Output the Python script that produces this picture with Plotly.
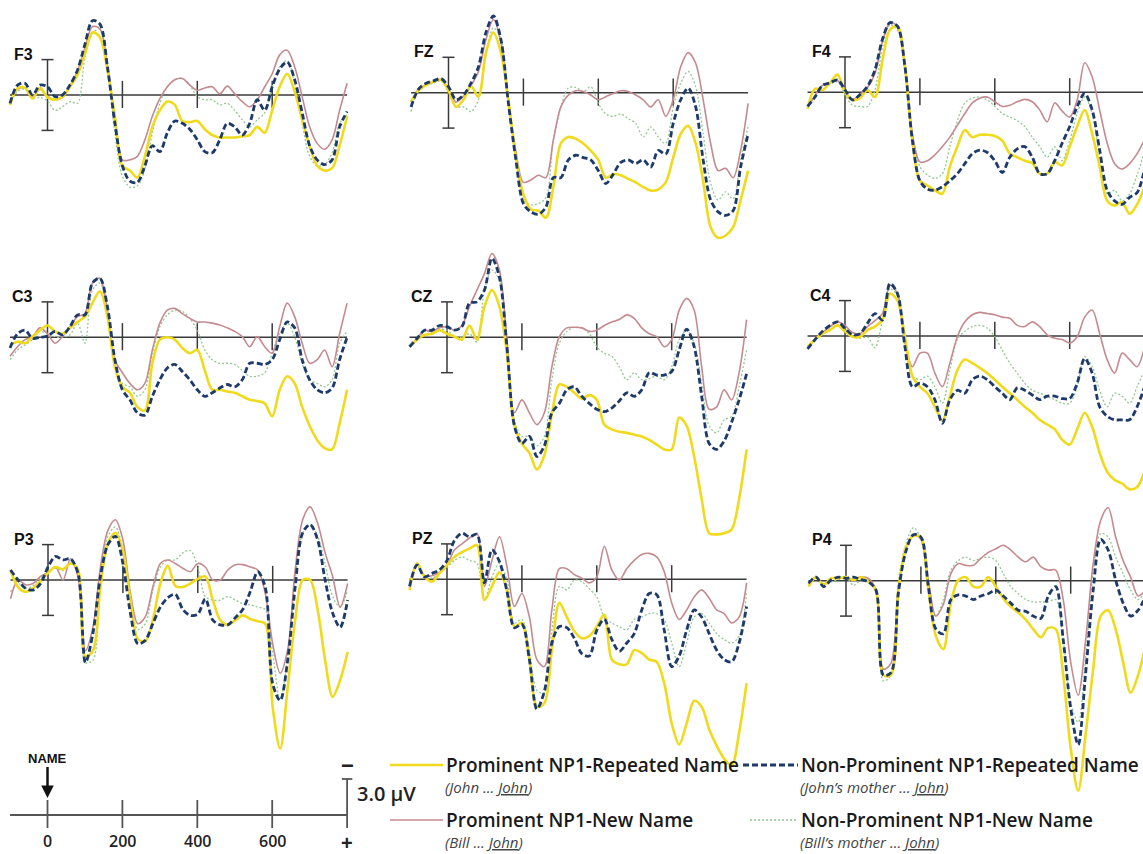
import plotly.graph_objects as go

W, H = 1143, 854
TIME_MS = list(range(-100, 801, 20))  # 46 samples

# ---- ERP amplitudes (µV, negative plotted up) ----
# PR = Prominent NP1-Repeated, NR = Non-Prominent NP1-Repeated,
# PN = Prominent NP1-New, NN = Non-Prominent NP1-New
F3_PR = [0.84,-0.56,-0.6,0.3,-0.6,0.2,0.4,0.15,-0.7,-1.7, -3.5,-5.3,-4.9,-2.1,1.8,6.0,6.4,7.0,5.2,2.7, 1.3,0.56,0.84,2.2,2.3,2.2,2.9,3.4,3.6,3.6, 3.6,3.5,3.4,2.7,3.2,1.3,-0.7,-1.8,-0.3,2.1, 4.3,6.0,6.4,6.2,4.3,1.8]
F3_NR = [0.7,-0.84,-1.0,0.0,-0.84,-0.7,0.14,0.0,-0.84,-2.1, -4.3,-6.3,-6.0,-2.4,2.4,6.0,7.3,7.4,6.0,4.3, 4.8,3.2,2.2,2.4,2.9,3.8,4.8,4.9,3.8,2.4, 2.7,3.4,2.4,0.4,1.3,-0.7,-2.2,-2.8,-1.3,1.5, 4.3,5.5,5.9,5.5,2.7,1.4]
F3_PN = [0.7,-0.5,-0.6,0.2,-0.5,0.1,0.4,0.2,-0.8,-2.0, -4.0,-5.8,-5.6,-2.5,2.0,5.5,5.5,5.2,3.8,1.8, 0.3,-0.7,-1.3,-1.4,-0.84,-0.4,-0.6,-0.7,-0.1,-0.75, -0.1,0.56,1.0,0.4,-0.7,-1.8,-3.4,-3.8,-2.4,0.14, 2.7,4.1,4.6,3.8,1.3,-1.0]
F3_NN = [0.8,-0.3,-0.5,0.3,0.2,0.5,1.3,1.0,0.56,0.7, -3.2,-5.2,-5.6,-2.4,3.2,6.9,7.8,7.7,6.3,3.2, 0.7,-0.7,-1.3,-1.4,-0.84,0.14,0.4,0.4,0.84,0.7, 1.3,2.1,2.7,2.1,1.5,-0.7,-2.4,-2.9,-1.0,2.4, 5.2,6.0,5.9,4.9,2.4,1.7]

FZ_PR = [0.77,-0.2,-0.65,-0.94,-1.1,-0.2,1.2,0.6,-0.57,0.34, -3.4,-5.1,-3.4,0.6,5.5,8.6,9.9,10.0,10.6,8.0, 4.3,3.75,3.9,4.3,4.9,5.7,7.2,6.9,7.0,7.3, 7.6,8.0,8.3,8.2,7.6,5.5,3.5,2.8,4.3,7.5, 11.4,12.3,12.1,11.4,9.1,6.6]
FZ_NR = [1.2,-0.3,-0.8,-1.0,-1.2,-0.5,0.6,0.2,-0.8,-2.2, -5.1,-6.5,-4.5,0.9,5.7,9.4,10.1,10.3,9.7,7.2, 7.2,5.7,5.3,5.5,5.7,6.6,7.7,6.9,5.9,5.7, 6.0,5.7,6.3,4.9,5.2,2.6,0.6,-0.4,1.2,5.7, 9.1,10.1,10.4,10.0,6.3,3.5]
FZ_PN = [0.8,-0.3,-0.7,-0.9,-1.1,-0.3,0.8,0.3,-0.6,-1.8, -4.5,-6.2,-4.3,0.8,5.0,7.6,7.4,7.0,7.2,4.0, 1.2,0.2,-0.17,-0.1,0.2,0.6,0.34,0.06,-0.17,-0.1, 0.2,0.6,1.2,0.6,2.0,0.6,-2.2,-3.4,-2.5,0.6, 4.3,6.6,6.4,7.2,4.9,0.9]
FZ_NN = [1.6,-0.2,-0.6,-0.8,-1.0,0.0,1.2,1.2,1.6,0.6, -3.2,-5.5,-4.5,0.6,5.0,9.1,9.5,9.4,8.9,4.0, 1.2,-0.4,-0.45,-0.1,-0.5,0.9,1.8,2.0,1.8,2.2, 2.6,3.75,2.9,3.75,4.3,1.2,-0.8,-1.8,-0.5,3.5, 7.7,9.1,8.4,9.0,5.7,2.9]

F4_PR = [1.4,-0.3,-0.2,-0.8,-1.5,0.0,0.65,0.5,-0.2,0.4, -2.7,-5.3,-5.6,-2.2,4.1,7.5,7.9,8.3,8.6,6.3, 4.6,3.2,3.8,3.6,3.6,3.7,4.1,5.2,5.5,5.8, 6.0,6.9,6.9,5.9,6.2,4.6,2.9,1.5,3.5,6.3, 9.2,9.6,9.3,10.3,9.5,8.0]
F4_NR = [1.2,0.4,-0.6,-0.8,-1.05,-0.2,0.65,0.2,-0.5,-1.9, -4.5,-5.9,-5.6,-2.2,4.1,7.5,8.2,8.3,8.0,7.5, 6.9,6.05,5.2,4.9,5.1,5.8,6.8,5.5,4.8,4.6, 5.5,6.9,6.9,5.8,4.3,2.9,1.2,0.1,1.5,4.9, 8.3,9.2,9.5,8.9,8.5,6.5]
F4_PN = [1.3,0.3,-0.6,-0.8,-1.0,-0.1,0.6,0.2,-0.4,-1.6, -4.3,-5.9,-5.6,-2.0,3.5,5.9,5.8,5.3,4.6,3.8, 2.8,1.8,0.9,0.5,0.4,0.8,1.2,1.1,0.8,0.6, 0.8,1.5,2.5,0.9,1.6,2.1,0.65,-2.5,-1.3,1.5, 4.3,6.05,6.5,6.05,5.2,4.0]
F4_NN = [1.3,0.2,-0.5,-0.7,-0.9,0.2,1.1,1.2,1.2,-0.2, -3.8,-5.7,-5.3,-2.0,3.8,6.3,7.0,7.3,6.9,4.6, 2.4,0.9,0.5,0.4,0.65,1.2,1.8,2.1,2.4,2.9, 3.8,4.6,5.5,4.6,5.8,4.1,1.8,0.4,1.8,5.5, 8.6,8.3,9.2,8.6,7.0,5.0]

C3_PR = [0.65,0.37,0.5,-0.06,-0.6,-1.0,-0.5,-0.3,-0.8,-1.3, -1.75,-2.9,-3.9,-1.75,2.5,4.2,4.7,5.9,6.2,2.2, 0.2,0.0,0.2,0.9,1.35,1.07,2.8,4.45,4.45,4.6, 4.7,5.0,5.3,5.4,5.6,6.7,4.45,3.3,3.9,5.9, 7.5,8.7,9.4,9.5,7.3,4.45]
C3_NR = [0.9,-0.3,-0.6,0.1,0.0,-0.1,-0.5,-0.2,-0.9,-1.9, -1.9,-4.6,-5.0,-2.6,1.9,4.45,5.3,6.4,6.6,5.0, 3.6,2.6,2.3,2.9,3.6,4.45,5.0,4.7,4.3,4.0, 4.2,3.6,2.2,2.2,2.3,1.9,0.2,-1.3,-0.8,1.9, 3.6,4.45,4.7,4.3,1.9,0.0]
C3_PN = [1.6,0.8,0.2,-0.06,-0.8,-0.3,0.5,-0.06,-0.9,-1.75, -2.0,-4.6,-5.0,-2.3,1.9,3.0,3.9,4.45,3.9,1.07, -1.2,-2.3,-2.45,-2.0,-1.6,-1.3,-1.3,-1.2,-1.05,-0.8, -0.5,-0.06,0.8,-0.06,0.8,1.35,-0.9,-2.9,-1.75,0.5, 2.2,1.9,1.07,2.5,-0.3,-2.9]
C3_NN = [1.9,1.07,0.65,0.2,-0.5,-0.3,-0.06,0.0,-0.2,-1.2, 0.5,-4.0,-4.6,-2.0,2.2,3.9,4.2,5.0,4.45,1.35, -0.9,-1.9,-2.3,-2.2,-1.6,-0.6,1.07,1.9,2.2,2.2, 2.3,2.8,3.3,3.3,3.0,1.35,-0.3,-1.2,-0.06,2.2, 3.6,3.9,4.2,3.6,0.5,-0.5]

CZ_PR = [0.8,0.2,-0.2,-0.3,-0.6,-0.3,-0.05,0.2,-1.0,0.2, -2.6,-4.0,-2.6,1.35,7.5,9.0,9.8,11.2,10.0,6.5, 4.0,4.2,4.7,5.2,4.9,5.3,7.4,7.8,8.0,8.1, 8.25,8.4,8.7,9.1,9.5,9.5,6.8,7.5,10.1,13.7, 16.6,16.7,16.6,16.3,13.7,9.5]
CZ_NR = [0.8,0.1,-0.6,-0.6,-1.0,-0.9,-0.6,-0.9,-2.9,-3.0, -4.0,-6.7,-5.1,0.8,7.5,9.0,8.4,10.1,9.2,6.4, 5.6,4.45,4.2,5.0,5.6,6.1,6.3,6.0,5.4,4.7, 5.0,4.45,3.0,3.2,3.2,2.9,1.07,-0.7,0.8,5.0, 9.0,9.5,8.8,7.2,5.3,3.1]
CZ_PN = [0.8,0.1,-0.6,-0.5,-0.8,-0.9,-0.6,-1.0,-2.6,-4.0, -5.4,-7.1,-5.7,0.2,6.4,5.3,6.4,7.4,6.4,2.5, -0.05,-0.8,-0.85,-0.8,-0.5,-0.6,-1.0,-1.3,-1.5,-1.9, -1.6,-0.8,-0.3,-0.05,0.8,0.2,-2.3,-3.3,-2.3,2.5, 6.1,5.9,4.45,5.3,3.0,-1.5]
CZ_NN = [0.8,0.2,-0.5,-0.4,-0.7,-0.6,-0.1,0.0,-0.3,0.4, -4.0,-5.7,-4.8,0.5,7.0,8.4,8.4,9.2,8.4,3.6, 0.5,-0.5,-0.85,-0.8,-0.3,0.8,1.35,1.6,2.5,3.6, 3.0,3.6,3.5,3.3,3.6,2.5,0.2,-0.6,0.5,3.9, 7.5,8.1,7.0,6.7,4.2,1.07]

C4_PR = [0.9,0.3,-0.2,-0.5,-0.9,-0.4,0.06,0.06,-0.5,-0.8, -1.35,-3.6,-3.0,0.06,3.4,4.3,4.85,6.0,7.2,5.1, 2.9,2.0,2.3,2.7,3.15,3.7,4.3,4.85,5.4,6.0, 6.5,7.1,7.5,7.9,8.8,9.2,7.9,6.5,7.7,9.9, 11.5,12.2,12.5,13.0,12.8,11.5]
C4_NR = [1.1,0.3,-0.4,-0.9,-1.2,-0.65,-0.1,-0.2,-1.07,-1.9, -1.35,-4.45,-3.6,0.9,4.3,4.0,4.3,5.4,7.4,5.4, 4.6,4.85,3.7,3.4,3.7,4.3,4.85,5.4,4.4,4.6, 5.0,5.4,5.1,5.1,5.3,5.3,4.0,1.9,3.15,6.0, 6.8,7.1,7.1,7.1,6.0,4.3]
C4_PN = [1.0,0.3,-0.3,-0.8,-1.2,-0.9,-0.3,-0.2,-0.8,-1.3, -1.9,-4.3,-3.6,0.5,2.6,1.45,1.45,3.15,4.3,2.3, 0.06,-1.2,-1.8,-2.0,-1.9,-1.8,-1.6,-1.5,-0.9,-0.8, -1.2,-0.8,-0.1,0.2,0.3,0.6,0.06,-1.6,-2.2,-0.2, 2.0,3.15,1.45,2.0,2.6,0.9]
C4_NN = [1.0,0.3,-0.3,-0.6,-0.9,-0.6,0.0,0.2,0.1,1.0, -1.35,-4.0,-3.4,0.9,3.4,3.7,3.4,4.3,5.7,2.9, 0.3,-0.4,-0.8,-0.9,-0.65,0.06,1.2,2.3,3.15,4.0, 4.6,4.85,5.1,5.4,5.7,5.7,4.3,1.75,2.6,4.6, 6.0,4.85,5.1,5.7,4.3,2.9]

P3_PR = [-0.85,0.6,1.0,0.7,0.1,-0.6,-1.1,-0.9,-1.4,-0.9, 6.5,6.0,0.6,-3.1,-4.0,-2.5,1.7,5.0,5.2,3.4, 0.3,-1.2,0.5,0.6,0.3,-0.1,-0.3,1.7,3.4,3.8, 3.4,3.0,3.3,3.5,3.7,10.8,14.3,9.1,3.4,0.0, 0.0,2.5,6.8,9.9,8.5,6.1]
P3_NR = [-0.85,0.0,0.7,0.85,0.3,-1.1,-2.0,-1.7,-1.8,-0.6, 7.0,4.5,-0.3,-3.0,-3.7,-1.4,2.8,5.4,5.1,3.7, 2.3,1.5,1.2,2.5,3.0,2.9,1.6,3.4,3.8,3.8, 3.2,2.5,1.0,-0.7,0.6,8.8,10.2,6.8,0.6,-4.0, -4.7,-3.4,0.0,2.8,4.0,1.7]
P3_PN = [1.6,0.0,0.4,0.3,-0.3,-0.6,-1.1,0.0,-1.8,-0.3, 6.0,4.0,-1.1,-4.2,-5.1,-3.4,1.1,3.7,3.1,0.6, -1.4,-1.7,-1.4,-1.0,-0.7,-1.4,-1.1,0.0,0.0,-0.85, -1.3,-1.3,-1.1,-0.85,1.1,5.4,7.9,5.9,-0.85,-5.1, -6.2,-4.8,-2.3,-0.3,2.3,0.3]
P3_NN = [1.0,0.3,0.7,0.5,-0.2,-0.7,-1.0,-0.8,-1.5,-0.5, 7.0,6.8,-0.3,-3.7,-4.5,-2.5,1.7,4.2,3.7,0.85, -1.1,-1.7,-1.7,-2.3,-2.5,-1.1,1.4,1.7,1.7,1.4, 1.7,2.0,2.1,2.3,2.5,6.2,10.2,6.5,0.0,-4.0, -4.7,-3.7,-1.4,1.4,2.3,0.85]

PZ_PR = [0.9,-1.35,-0.2,0.2,-0.5,-1.2,-1.9,-2.3,-2.6,-2.9, 1.75,0.6,-0.6,0.9,4.0,3.7,6.8,10.8,10.5,6.0, 2.0,3.2,4.4,5.0,4.8,4.0,3.0,6.8,7.2,7.2, 6.0,6.25,6.8,7.0,8.8,12.2,14.0,12.2,10.3,10.8, 12.7,14.1,15.2,15.8,13.0,8.8]
PZ_NR = [0.6,-1.2,-0.2,-0.5,-0.8,-1.6,-3.3,-3.9,-3.6,-3.8, 0.3,-2.5,-1.5,1.0,4.1,3.8,6.8,11.0,9.5,5.4, 4.0,4.1,5.0,6.3,6.5,4.3,3.4,5.1,6.1,5.4, 4.6,2.6,1.2,1.3,4.3,7.4,6.5,4.3,2.6,3.2, 4.6,6.0,6.8,7.0,5.4,2.3]
PZ_PN = [0.7,-1.3,-0.3,-0.3,-0.6,-1.2,-2.5,-3.0,-3.5,-3.9, 0.6,-1.6,-3.6,-1.1,2.3,1.2,3.2,6.8,7.4,2.6, -0.9,-0.9,-0.4,-0.1,0.3,-0.2,-2.8,-0.8,0.06,-0.9, -1.6,-2.1,-2.2,-1.9,-0.65,2.0,3.4,2.6,1.5,0.9, 1.6,2.6,2.9,3.7,3.2,0.3]
PZ_NN = [0.8,-1.2,-0.3,-0.1,-0.5,-1.0,-1.6,-1.9,-1.6,-1.35, 1.75,-0.2,-1.35,0.06,3.7,3.4,6.0,9.4,9.6,4.3, 0.6,0.9,0.06,0.2,0.8,1.5,3.2,3.7,4.0,4.3, 3.4,3.2,2.9,2.9,3.4,5.4,7.4,5.4,3.2,2.9, 3.7,4.6,5.1,5.4,4.8,1.2]

P4_PR = [0.5,-0.3,0.36,-0.2,-0.2,-0.3,-0.06,-0.3,0.1,0.8, 8.0,8.0,0.8,-2.8,-3.8,-3.7,0.8,4.7,5.8,1.9, -0.06,-0.3,0.5,0.5,-0.3,0.5,1.5,2.2,2.7,3.3, 4.1,4.8,4.0,4.1,8.0,14.2,17.8,13.0,7.5,3.0, 2.5,4.1,6.9,9.5,8.0,5.5]
P4_NR = [0.2,-0.3,0.5,-0.06,-0.3,-0.2,-0.3,-0.1,0.1,0.8, 8.0,7.8,1.0,-2.5,-3.9,-3.7,0.5,4.1,4.5,1.6, 1.2,1.3,1.6,1.3,1.1,0.8,1.3,1.9,2.5,2.6, 3.0,3.2,1.3,0.5,5.0,10.8,13.9,7.8,0.8,-3.5, -2.6,-0.06,1.9,3.0,2.5,1.3]
P4_PN = [0.3,-0.3,0.3,-0.2,-0.2,-0.2,-0.1,-0.3,-0.2,0.8, 7.5,7.0,0.5,-2.6,-3.9,-3.5,0.0,3.0,2.0,-0.6, -1.45,-1.3,-1.3,-1.9,-2.4,-2.7,-3.0,-2.6,-2.0,-1.6, -2.0,-1.2,-0.9,-0.9,1.6,6.9,9.7,5.0,-1.45,-5.1, -6.2,-3.7,-1.7,-0.3,1.3,0.8]
P4_NN = [0.3,-0.2,0.4,0.1,-0.1,-0.3,0.4,-0.1,-0.1,1.0, 8.5,8.0,0.0,-3.1,-4.5,-3.5,0.5,3.0,1.6,-0.9, -1.7,-2.0,-1.7,-1.9,-2.0,-1.7,-0.6,0.5,1.1,1.6, 1.8,1.8,1.8,1.6,5.0,10.3,12.0,6.4,-0.6,-4.0, -3.7,-2.0,-0.6,0.8,1.6,0.8]

CHANNELS = ["F3", "FZ", "F4", "C3", "CZ", "C4", "P3", "PZ", "P4"]
CHANNEL_DATA = {
    "F3": (F3_PR, F3_NR, F3_PN, F3_NN), "FZ": (FZ_PR, FZ_NR, FZ_PN, FZ_NN), "F4": (F4_PR, F4_NR, F4_PN, F4_NN),
    "C3": (C3_PR, C3_NR, C3_PN, C3_NN), "CZ": (CZ_PR, CZ_NR, CZ_PN, CZ_NN), "C4": (C4_PR, C4_NR, C4_PN, C4_NN),
    "P3": (P3_PR, P3_NR, P3_PN, P3_NN), "PZ": (PZ_PR, PZ_NR, PZ_PN, PZ_NN), "P4": (P4_PR, P4_NR, P4_PN, P4_NN),
}
AXIS_TICKS_MS = [200, 400, 600]
BOTTOM_TICKS_MS = [0, 200, 400, 600]
SCALE_UV = 3.0

# ---- geometry (pixels) ----
PANEL_X0 = [47.5, 448.5, 845, 47.5, 447, 845, 48, 447, 846]      # pixel of t = 0
PANEL_Y0 = [95, 92.7, 92.3, 337.3, 337.3, 336, 580, 579.3, 580.7]  # pixel of 0 µV
PX_PER_MS = 0.3745
PX_PER_UV = 11.8

YELLOW = "#EFDA1C"
NAVY = "#1D3A6B"
ROSE = "#C48A90"
GREEN = "#93C793"
AX = "#3A3A3A"

def px(x):
    return x / W

def py(y):
    return 1 - y / H

fig = go.Figure()
layout = dict(width=W, height=H, margin=dict(l=0, r=0, t=0, b=0), autosize=False,
              paper_bgcolor="white", plot_bgcolor="rgba(0,0,0,0)", showlegend=False)
shapes, annotations = [], []

STYLES = [  # drawing order: green, rose, yellow, navy
    (3, dict(color=GREEN, width=1.3, dash="2px,2px")),
    (2, dict(color=ROSE, width=1.6)),
    (0, dict(color=YELLOW, width=2.6)),
    (1, dict(color=NAVY, width=2.8, dash="6px,3px")),
]

for i, ch in enumerate(CHANNELS):
    n = i + 1
    xa = "x" if n == 1 else f"x{n}"
    ya = "y" if n == 1 else f"y{n}"
    x0, y0 = PANEL_X0[i], PANEL_Y0[i]
    layout["xaxis" if n == 1 else f"xaxis{n}"] = dict(
        domain=[0, 1], range=[(0 - x0) / PX_PER_MS, (W - x0) / PX_PER_MS],
        visible=False, fixedrange=True, anchor=ya)
    layout["yaxis" if n == 1 else f"yaxis{n}"] = dict(
        domain=[0, 1], range=[(H - y0) / PX_PER_UV, (0 - y0) / PX_PER_UV],
        visible=False, fixedrange=True, anchor=xa)
    series = CHANNEL_DATA[ch]
    for idx, ln in STYLES:
        fig.add_trace(go.Scatter(x=TIME_MS, y=series[idx], xaxis=xa, yaxis=ya, mode="lines",
                                 line=dict(shape="spline", smoothing=0.9, **ln),
                                 hoverinfo="skip", showlegend=False))
    # zero line
    shapes.append(dict(type="line", xref=xa, yref=ya, x0=TIME_MS[0], x1=TIME_MS[-1], y0=0, y1=0,
                       line=dict(color=AX, width=1.5), layer="below"))
    for tk in AXIS_TICKS_MS:
        shapes.append(dict(type="line", xref=xa, yref=ya, x0=tk, x1=tk, y0=-1.2, y1=1.1,
                           line=dict(color=AX, width=1.5), layer="below"))
    # voltage scale bar at t = 0
    shapes.append(dict(type="line", xref=xa, yref=ya, x0=0, x1=0, y0=-SCALE_UV, y1=SCALE_UV,
                       line=dict(color=AX, width=1.5), layer="below"))
    for yy in (-SCALE_UV, SCALE_UV):
        shapes.append(dict(type="line", xref=xa, yref=ya, x0=-16, x1=16, y0=yy, y1=yy,
                           line=dict(color=AX, width=1.5), layer="below"))
    annotations.append(dict(xref=xa, yref=ya, x=-33, y=-3.45, text=f"<b>{ch}</b>", showarrow=False,
                            xanchor="right", yanchor="middle",
                            font=dict(family="Liberation Sans", size=16, color="#111")))

# ---- bottom time axis (uses F3 time scale) ----
AXIS_Y = 815
shapes.append(dict(type="line", xref="x", yref="paper", x0=-100, x1=800, y0=py(AXIS_Y), y1=py(AXIS_Y),
                   line=dict(color="#555", width=1.8)))
for tk in BOTTOM_TICKS_MS:
    shapes.append(dict(type="line", xref="x", yref="paper", x0=tk, x1=tk, y0=py(800), y1=py(828),
                       line=dict(color="#555", width=1.8)))
    annotations.append(dict(xref="x", yref="paper", x=tk, y=py(854), text=str(tk), showarrow=False,
                            xanchor="center", yanchor="bottom",
                            font=dict(family="Open Sans", size=16, color="#222", weight=600)))
# amplitude scale bar at the end of the time axis
shapes.append(dict(type="line", xref="x", yref="paper", x0=800, x1=800, y0=py(779), y1=py(828),
                   line=dict(color="#555", width=1.8)))
shapes.append(dict(type="line", xref="x", yref="paper", x0=786, x1=814, y0=py(779), y1=py(779),
                   line=dict(color="#555", width=1.8)))
annotations.append(dict(xref="x", yref="paper", x=800, y=py(765), text="<b>\u2212</b>", showarrow=False,
                        xanchor="center", yanchor="middle", font=dict(family="Liberation Sans", size=22, color="#222")))
annotations.append(dict(xref="x", yref="paper", x=800, y=py(843), text="<b>+</b>", showarrow=False,
                        xanchor="center", yanchor="middle", font=dict(family="Liberation Sans", size=20, color="#222")))
annotations.append(dict(xref="paper", yref="paper", x=px(355), y=py(793), text=f"{SCALE_UV:.1f} \u00b5V",
                        showarrow=False, xanchor="left", yanchor="middle",
                        font=dict(family="Open Sans", size=20, color="#222", weight=600)))
annotations.append(dict(xref="x", yref="paper", x=0, y=py(798), ax=0, ay=-40, text="<b>NAME</b>",
                        showarrow=True, arrowhead=2, arrowsize=1, arrowwidth=2.5, arrowcolor="#111",
                        font=dict(family="Liberation Sans", size=13, color="#111")))

# ---- legend ----
LEGEND_ITEMS = [
    ("Prominent NP1-Repeated Name", "(John ... <span style='text-decoration:underline'>John</span>)"),
    ("Non-Prominent NP1-Repeated Name", "(John\u2019s mother ... <span style='text-decoration:underline'>John</span>)"),
    ("Prominent NP1-New Name", "(Bill ... <span style='text-decoration:underline'>John</span>)"),
    ("Non-Prominent NP1-New Name", "(Bill\u2019s mother ... <span style='text-decoration:underline'>John</span>)"),
]
LEG_POS = [(390, 443, 444, 765), (743, 798, 799, 765), (390, 443, 444, 820), (750, 797, 799, 820)]
LEG_LINES = [dict(color=YELLOW, width=2.6), dict(color=NAVY, width=2.8, dash="6px,3px"),
             dict(color=ROSE, width=1.6), dict(color=GREEN, width=1.3, dash="2px,2px")]
for (title, sub), (lx0, lx1, tx, ty), ln in zip(LEGEND_ITEMS, LEG_POS, LEG_LINES):
    shapes.append(dict(type="line", xref="paper", yref="paper", x0=px(lx0), x1=px(lx1), y0=py(ty), y1=py(ty), line=ln))
    annotations.append(dict(xref="paper", yref="paper", x=px(tx), y=py(ty), text=title, showarrow=False,
                            xanchor="left", yanchor="middle",
                            font=dict(family="Open Sans", size=19, color="#1a1a1a", weight=600)))
    annotations.append(dict(xref="paper", yref="paper", x=px(tx - 1), y=py(ty + 22), text=f"<i>{sub}</i>",
                            showarrow=False, xanchor="left", yanchor="middle",
                            font=dict(family="Open Sans", size=15, color="#444")))

layout["shapes"] = shapes
layout["annotations"] = annotations
fig.update_layout(**layout)
fig.write_html("out.html")
